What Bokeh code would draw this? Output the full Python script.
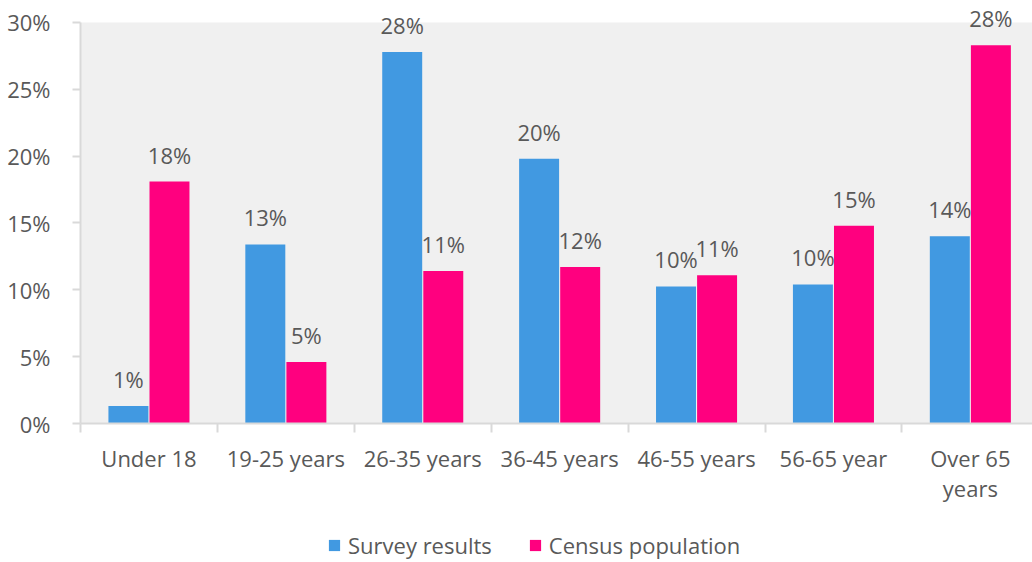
from bokeh.plotting import figure
from bokeh.layouts import column
from bokeh.models import FixedTicker, Range1d, Legend, LegendItem, ColumnDataSource
from bokeh.core.properties import value
from bokeh.embed import file_html
from bokeh.resources import INLINE

categories = ["Under 18", "19-25 years", "26-35 years", "36-45 years", "46-55 years", "56-65 year", "Over 65\nyears"]
survey = [1.3, 13.4, 27.8, 19.8, 10.25, 10.4, 14.0]
census = [18.1, 4.6, 11.4, 11.7, 11.1, 14.8, 28.3]
series_names = ["Survey results", "Census population"]
y_ticks = [0, 5, 10, 15, 20, 25, 30]
y_max = 30

FONT = "Open Sans"
TXT = "#595959"
BLUE = "#4199E1"
PINK = "#FF007F"
FS = "22px"

n = len(categories)
idx = list(range(n))
x_end = 952 / 136.9

p = figure(frame_width=952, frame_height=423, output_backend="svg", toolbar_location=None,
           x_range=Range1d(0, x_end), y_range=Range1d(0, y_max + 22 / 13.367),
           min_border_left=80, min_border_top=0, min_border_right=0, min_border_bottom=89)
p.background_fill_color = "white"
p.border_fill_color = "white"
p.outline_line_color = None
p.xgrid.visible = False
p.ygrid.visible = False

# plot-area background (only up to the top tick)
p.quad(left=[0], right=[x_end], bottom=[0], top=[y_max], fill_color="#F0F0F0", line_color=None)

src_s = ColumnDataSource(dict(x=[i + 0.35 for i in idx], top=survey,
                              lab=[f"{int(v + 0.5)}%" for v in survey]))
src_c = ColumnDataSource(dict(x=[i + 0.65 for i in idx], top=census,
                              lab=[f"{int(v + 0.5)}%" for v in census]))

p.vbar(x="x", top="top", width=0.292, bottom=0, source=src_s, fill_color=BLUE, line_color=None)
p.vbar(x="x", top="top", width=0.292, bottom=0, source=src_c, fill_color=PINK, line_color=None)

for src in (src_s, src_c):
    p.text(x="x", y="top", text="lab", source=src, text_align="center", text_baseline="middle",
           y_offset=-27, text_font=value(FONT), text_font_size=FS, text_color=TXT)

# axes
xa = p.xaxis[0]
xa.ticker = FixedTicker(ticks=[i + 0.5 for i in idx], minor_ticks=list(range(n + 1)))
xa.major_label_overrides = {i + 0.5: c for i, c in zip(idx, categories)}
xa.major_tick_out = 0
xa.major_tick_in = 0
xa.minor_tick_out = 9
xa.minor_tick_in = 0
xa.minor_tick_line_color = "#D9D9D9"
xa.minor_tick_line_width = 2
xa.axis_line_color = "#D9D9D9"
xa.axis_line_width = 2
xa.major_label_text_font = FONT
xa.major_label_text_font_size = FS
xa.major_label_text_color = TXT
xa.major_label_text_line_height = 1.0
xa.major_label_standoff = 10

ya = p.yaxis[0]
ya.ticker = FixedTicker(ticks=y_ticks, minor_ticks=[])
ya.bounds = (0, y_max)
ya.major_label_overrides = {t: f"{t}%" for t in y_ticks}
ya.major_tick_out = 8
ya.major_tick_in = 0
ya.major_tick_line_color = "#D9D9D9"
ya.major_tick_line_width = 2
ya.axis_line_color = "#D9D9D9"
ya.axis_line_width = 2
ya.major_label_text_font = FONT
ya.major_label_text_font_size = FS
ya.major_label_text_color = TXT
ya.major_label_standoff = 22

# legend strip (frame is aligned with the main plot's frame)
lg = figure(width=1032, height=50, output_backend="svg", toolbar_location=None,
            x_range=Range1d(0, 1), y_range=Range1d(0, 1),
            min_border_left=80, min_border_top=0, min_border_right=0, min_border_bottom=0)
lg.axis.visible = False
lg.grid.visible = False
lg.outline_line_color = None
lg.background_fill_color = "white"
lg.border_fill_color = "white"
# proxies placed outside the visible range, used only for the legend swatches
e1 = lg.vbar(x=[5], top=[1], width=0.1, fill_color=BLUE, line_color=None)
e2 = lg.vbar(x=[5], top=[1], width=0.1, fill_color=PINK, line_color=None)

legend = Legend(items=[LegendItem(label=series_names[0], renderers=[e1]),
                       LegendItem(label=series_names[1], renderers=[e2])],
                orientation="horizontal", location=(247, 2))
legend.label_text_font = FONT
legend.label_text_font_size = FS
legend.label_text_color = TXT
legend.glyph_width = 14
legend.glyph_height = 14
legend.label_standoff = 7
legend.spacing = 36
legend.border_line_alpha = 0
legend.background_fill_alpha = 0
legend.margin = 0
legend.padding = 0
lg.add_layout(legend, "center")

layout = column(p, lg, spacing=0)
open("out.html", "w").write(file_html(layout, INLINE))
